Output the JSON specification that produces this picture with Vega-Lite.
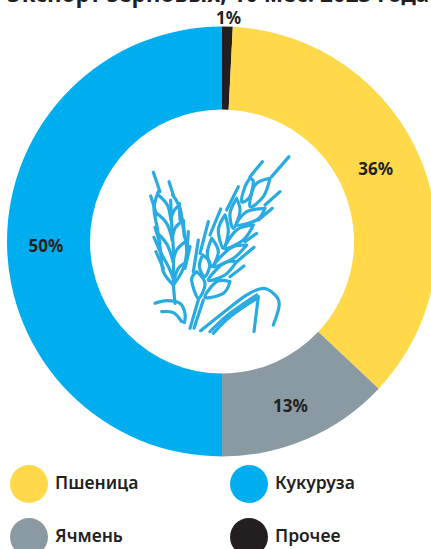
{"$schema":"https://vega.github.io/schema/vega-lite/v6.json","width":444,"height":463,"padding":{"left":0,"top":10,"right":0,"bottom":76},"autosize":{"type":"none"},"background":"white","view":{"stroke":null},
"title":{"text":"Экспорт зерновых, 10 мес. 2023 года","font":"Noto Sans","fontSize":22.5,"fontWeight":700,"color":"#231f20","anchor":"start","frame":"group","dx":7,"dy":19,"offset":4,"baseline":"alphabetic"},
"datasets":{"share":[{"name":"Прочее","value":0.8,"label":"1%","o":0},{"name":"Пшеница","value":36.2,"label":"36%","o":1},{"name":"Ячмень","value":13,"label":"13%","o":2},{"name":"Кукуруза","value":50,"label":"50%","o":3}],
"wheat":[
{"s":1,"n":0,"x":130,"y":435},{"s":1,"n":1,"x":130,"y":330},{"s":1,"n":2,"x":125,"y":250},{"s":1,"n":3,"x":122,"y":180},
{"s":2,"n":0,"x":85,"y":155},{"s":2,"n":1,"x":72,"y":205},{"s":2,"n":2,"x":82,"y":265},{"s":2,"n":3,"x":92,"y":335},{"s":2,"n":4,"x":100,"y":395},{"s":2,"n":5,"x":130,"y":435},
{"s":3,"n":0,"x":128,"y":165},{"s":3,"n":1,"x":150,"y":205},{"s":3,"n":2,"x":160,"y":265},{"s":3,"n":3,"x":170,"y":330},{"s":3,"n":4,"x":160,"y":385},{"s":3,"n":5,"x":130,"y":435},
{"s":4,"n":0,"x":70,"y":97},{"s":4,"n":1,"x":90,"y":155},{"s":5,"n":0,"x":117,"y":125},{"s":5,"n":1,"x":130,"y":165},{"s":6,"n":0,"x":62,"y":168},{"s":6,"n":1,"x":80,"y":225},{"s":7,"n":0,"x":75,"y":262},{"s":7,"n":1,"x":90,"y":310},{"s":8,"n":0,"x":72,"y":292},{"s":8,"n":1,"x":95,"y":345},{"s":9,"n":0,"x":78,"y":335},{"s":9,"n":1,"x":100,"y":385},{"s":10,"n":0,"x":148,"y":190},{"s":10,"n":1,"x":150,"y":240},{"s":11,"n":0,"x":160,"y":240},{"s":11,"n":1,"x":163,"y":290},{"s":12,"n":0,"x":175,"y":275},{"s":12,"n":1,"x":170,"y":345},{"s":13,"n":0,"x":180,"y":320},{"s":13,"n":1,"x":165,"y":385},
{"s":14,"n":0,"x":85,"y":165},{"s":14,"n":1,"x":112,"y":195},{"s":14,"n":2,"x":122,"y":235},{"s":15,"n":0,"x":80,"y":220},{"s":15,"n":1,"x":110,"y":250},{"s":15,"n":2,"x":126,"y":295},{"s":16,"n":0,"x":88,"y":285},{"s":16,"n":1,"x":112,"y":315},{"s":16,"n":2,"x":128,"y":360},{"s":17,"n":0,"x":96,"y":345},{"s":17,"n":1,"x":115,"y":380},{"s":17,"n":2,"x":130,"y":415},
{"s":18,"n":0,"x":148,"y":195},{"s":18,"n":1,"x":130,"y":215},{"s":18,"n":2,"x":123,"y":240},{"s":19,"n":0,"x":155,"y":245},{"s":19,"n":1,"x":135,"y":265},{"s":19,"n":2,"x":126,"y":300},{"s":20,"n":0,"x":165,"y":305},{"s":20,"n":1,"x":140,"y":330},{"s":20,"n":2,"x":129,"y":365},{"s":21,"n":0,"x":163,"y":370},{"s":21,"n":1,"x":145,"y":385},{"s":21,"n":2,"x":131,"y":420},
{"s":22,"n":0,"x":130,"y":435},{"s":22,"n":1,"x":135,"y":490},{"s":23,"n":0,"x":75,"y":490},{"s":23,"n":1,"x":110,"y":482},{"s":23,"n":2,"x":150,"y":490},{"s":23,"n":3,"x":165,"y":520},{"s":23,"n":4,"x":163,"y":548},{"s":24,"n":0,"x":95,"y":515},{"s":24,"n":1,"x":130,"y":518},{"s":24,"n":2,"x":155,"y":545},
{"s":30,"n":0,"x":360,"y":115},{"s":30,"n":1,"x":345,"y":140},{"s":30,"n":2,"x":335,"y":185},{"s":30,"n":3,"x":360,"y":170},{"s":30,"n":4,"x":370,"y":125},{"s":30,"n":5,"x":360,"y":115},
{"s":31,"n":0,"x":420,"y":115},{"s":31,"n":1,"x":375,"y":135},{"s":31,"n":2,"x":360,"y":200},{"s":31,"n":3,"x":400,"y":170},{"s":31,"n":4,"x":420,"y":115},
{"s":32,"n":0,"x":320,"y":175},{"s":32,"n":1,"x":300,"y":220},{"s":32,"n":2,"x":310,"y":265},{"s":32,"n":3,"x":330,"y":215},{"s":32,"n":4,"x":320,"y":175},
{"s":33,"n":0,"x":405,"y":205},{"s":33,"n":1,"x":350,"y":215},{"s":33,"n":2,"x":320,"y":255},{"s":33,"n":3,"x":380,"y":240},{"s":33,"n":4,"x":405,"y":205},
{"s":34,"n":0,"x":285,"y":225},{"s":34,"n":1,"x":265,"y":270},{"s":34,"n":2,"x":280,"y":325},{"s":34,"n":3,"x":295,"y":275},{"s":34,"n":4,"x":285,"y":225},
{"s":35,"n":0,"x":370,"y":255},{"s":35,"n":1,"x":320,"y":270},{"s":35,"n":2,"x":285,"y":325},{"s":35,"n":3,"x":340,"y":300},{"s":35,"n":4,"x":370,"y":255},
{"s":36,"n":0,"x":245,"y":295},{"s":36,"n":1,"x":232,"y":340},{"s":36,"n":2,"x":245,"y":380},{"s":36,"n":3,"x":265,"y":335},{"s":36,"n":4,"x":245,"y":295},
{"s":37,"n":0,"x":350,"y":315},{"s":37,"n":1,"x":300,"y":325},{"s":37,"n":2,"x":250,"y":380},{"s":37,"n":3,"x":310,"y":355},{"s":37,"n":4,"x":350,"y":315},
{"s":38,"n":0,"x":218,"y":345},{"s":38,"n":1,"x":208,"y":380},{"s":38,"n":2,"x":225,"y":410},{"s":38,"n":3,"x":240,"y":370},{"s":38,"n":4,"x":218,"y":345},
{"s":39,"n":0,"x":320,"y":365},{"s":39,"n":1,"x":280,"y":370},{"s":39,"n":2,"x":235,"y":420},{"s":39,"n":3,"x":285,"y":405},{"s":39,"n":4,"x":320,"y":365},
{"s":40,"n":0,"x":200,"y":395},{"s":40,"n":1,"x":185,"y":420},{"s":40,"n":2,"x":205,"y":475},{"s":40,"n":3,"x":225,"y":430},{"s":40,"n":4,"x":200,"y":395},
{"s":41,"n":0,"x":300,"y":425},{"s":41,"n":1,"x":260,"y":425},{"s":41,"n":2,"x":225,"y":472},{"s":41,"n":3,"x":280,"y":460},{"s":41,"n":4,"x":300,"y":425},
{"s":42,"n":0,"x":397,"y":65},{"s":42,"n":1,"x":360,"y":110},{"s":43,"n":0,"x":477,"y":50},{"s":43,"n":1,"x":425,"y":110},{"s":44,"n":0,"x":450,"y":155},{"s":44,"n":1,"x":405,"y":195},{"s":45,"n":0,"x":427,"y":205},{"s":45,"n":1,"x":385,"y":240},{"s":46,"n":0,"x":380,"y":280},{"s":46,"n":1,"x":345,"y":305},{"s":47,"n":0,"x":372,"y":322},{"s":47,"n":1,"x":320,"y":365},{"s":48,"n":0,"x":342,"y":378},{"s":48,"n":1,"x":300,"y":410},{"s":49,"n":0,"x":325,"y":140},{"s":49,"n":1,"x":290,"y":210},{"s":50,"n":0,"x":272,"y":207},{"s":50,"n":1,"x":240,"y":285},{"s":51,"n":0,"x":235,"y":245},{"s":51,"n":1,"x":210,"y":340},{"s":52,"n":0,"x":205,"y":300},{"s":52,"n":1,"x":190,"y":395},
{"s":53,"n":0,"x":205,"y":480},{"s":53,"n":1,"x":180,"y":565},{"s":54,"n":0,"x":220,"y":480},{"s":54,"n":1,"x":192,"y":565},
{"s":55,"n":0,"x":212,"y":572},{"s":55,"n":1,"x":290,"y":510},{"s":55,"n":2,"x":350,"y":465},{"s":55,"n":3,"x":400,"y":445},{"s":55,"n":4,"x":440,"y":470},{"s":55,"n":5,"x":447,"y":500},{"s":55,"n":6,"x":430,"y":555},
{"s":56,"n":0,"x":250,"y":580},{"s":56,"n":1,"x":300,"y":530},{"s":56,"n":2,"x":380,"y":475},{"s":57,"n":0,"x":240,"y":575},{"s":57,"n":1,"x":300,"y":520},{"s":57,"n":2,"x":380,"y":465},{"s":58,"n":0,"x":385,"y":470},{"s":58,"n":1,"x":372,"y":575}
]},
"layer":[
{"data":{"name":"share"},"mark":{"type":"arc","outerRadius":215,"innerRadius":132},
"encoding":{"theta":{"field":"value","type":"quantitative","stack":true,"scale":{"domain":[0,100]}},"order":{"field":"o","type":"quantitative"},
"color":{"field":"name","type":"nominal","scale":{"domain":["Пшеница","Ячмень","Кукуруза","Прочее"],"range":["#FFD94A","#8A9AA3","#00AEEF","#231F20"]},
"legend":{"orient":"none","legendX":10,"legendY":455,"columns":2,"title":null,"symbolType":"circle","symbolSize":1444,"symbolStrokeWidth":0,"labelFont":"Noto Sans","labelFontSize":17.5,"labelFontWeight":600,"labelColor":"#231f20","labelOffset":7,"labelLimit":200,"rowPadding":15,"columnPadding":91}}}},
{"data":{"name":"wheat"},"mark":{"type":"line","color":"#29ABE2","strokeWidth":3.2,"strokeCap":"round","strokeJoin":"round","interpolate":"cardinal"},
"encoding":{"x":{"field":"x","type":"quantitative","axis":null,"scale":{"domain":[-390,942],"nice":false,"zero":false}},"y":{"field":"y","type":"quantitative","axis":null,"scale":{"domain":[999,-390],"nice":false,"zero":false}},"detail":{"field":"s"},"order":{"field":"n","type":"quantitative"}}},
{"data":{"name":"share"},"mark":{"type":"text","font":"Noto Sans","fontSize":17,"fontWeight":700,"color":"#231f20","dy":5,"dx":-1},
"encoding":{"theta":{"field":"value","type":"quantitative","stack":true,"scale":{"domain":[0,100]}},"order":{"field":"o","type":"quantitative"},"radius":{"value":175},"text":{"condition":{"test":"datum.name==='Ячмень'||datum.name==='Кукуруза'","field":"label"},"value":""}}},
{"data":{"name":"share"},"mark":{"type":"text","font":"Noto Sans","fontSize":17,"fontWeight":700,"color":"#231f20","dx":-4,"dy":-8},
"encoding":{"theta":{"field":"value","type":"quantitative","stack":true,"scale":{"domain":[0,100]}},"order":{"field":"o","type":"quantitative"},"radius":{"value":170},"text":{"condition":{"test":"datum.name==='Пшеница'","field":"label"},"value":""}}},
{"data":{"name":"share"},"mark":{"type":"text","font":"Noto Sans","fontSize":17,"fontWeight":700,"color":"#231f20","dx":1},
"encoding":{"theta":{"field":"value","type":"quantitative","stack":true,"scale":{"domain":[0,100]}},"order":{"field":"o","type":"quantitative"},"radius":{"value":223},"text":{"condition":{"test":"datum.name==='Прочее'","field":"label"},"value":""}}}
]}
